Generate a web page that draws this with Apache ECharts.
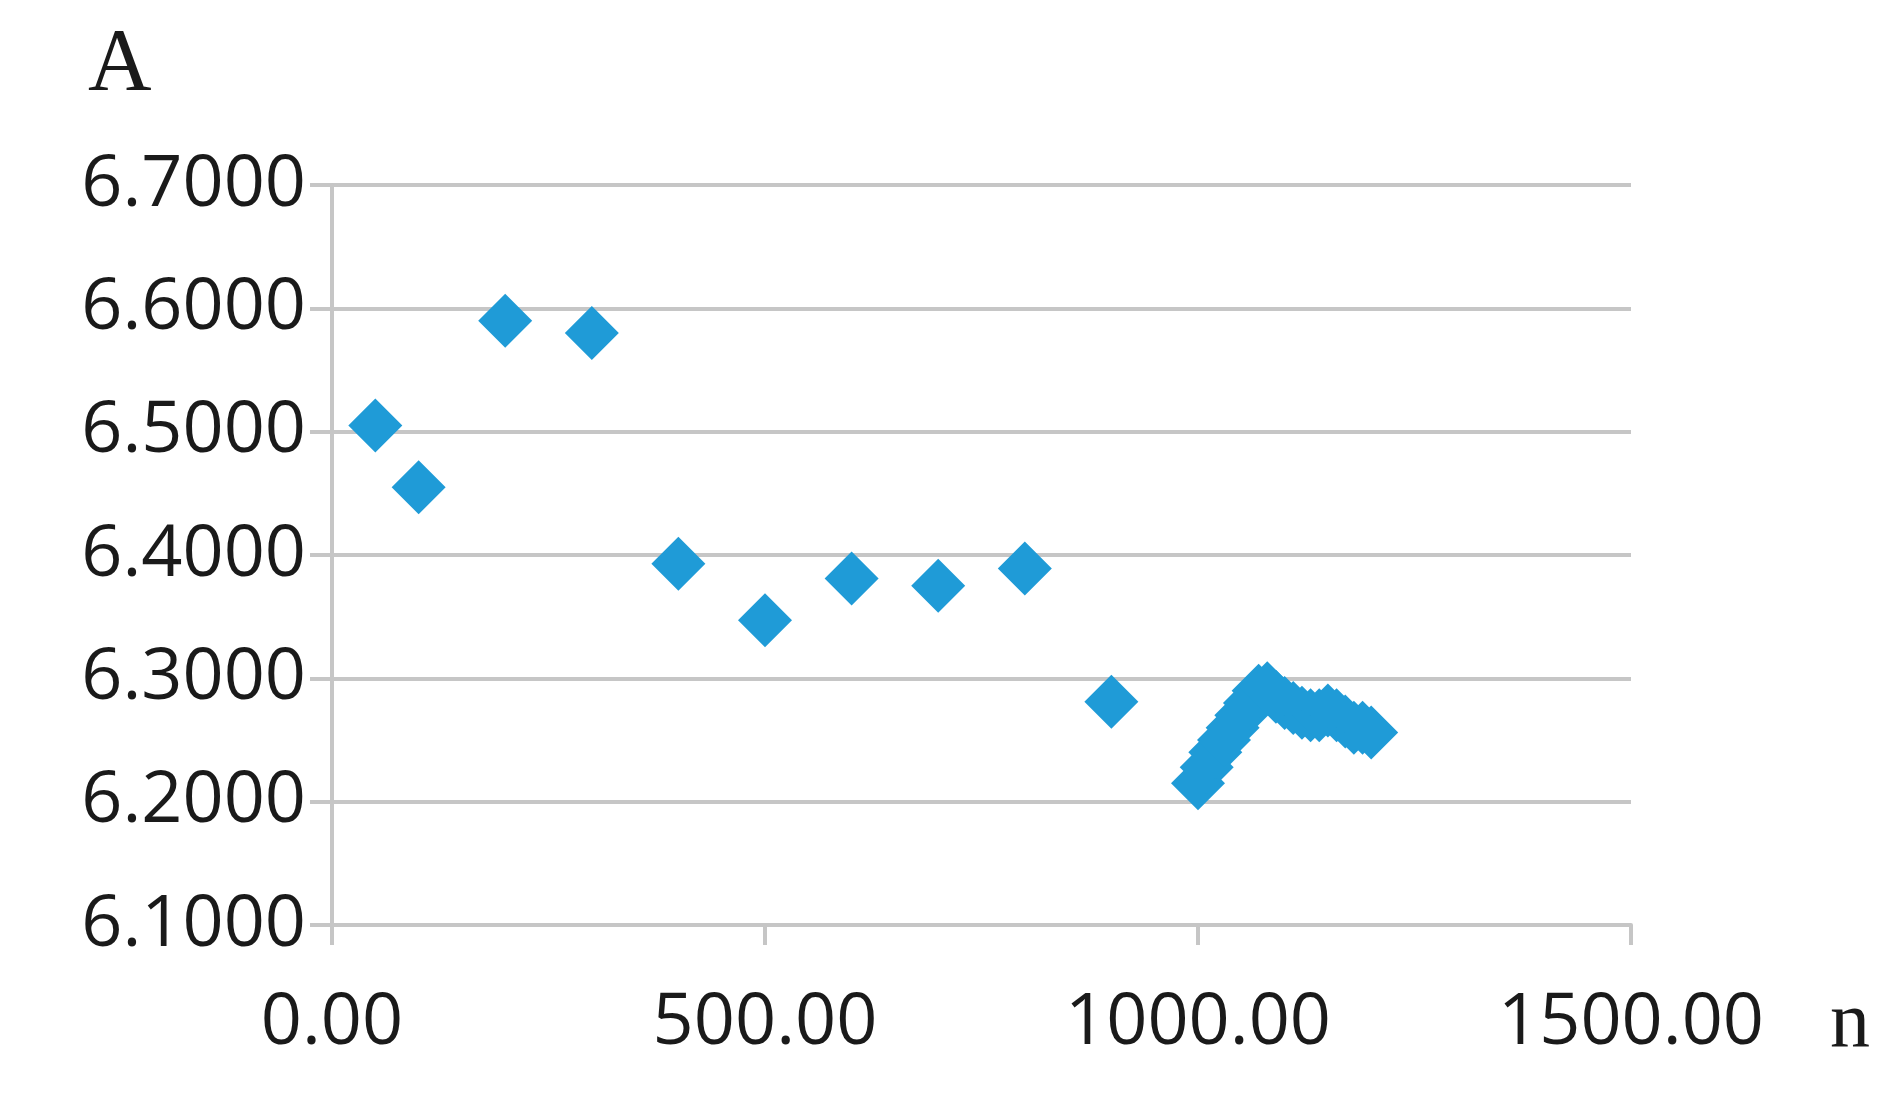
<!DOCTYPE html>
<html>
<head>
<meta charset="utf-8" />
<script src="https://cdn.jsdelivr.net/npm/echarts@6/dist/echarts.min.js"></script>
<style>
  body { margin: 0; background: #fff; }
  #main { width: 1898px; height: 1101px; }
</style>
</head>
<body>
<div id="main"></div>
<script>
var nValues = [50, 100, 200, 300, 400, 500, 600, 700, 800, 900,
  1000, 1010, 1020, 1030, 1040, 1050, 1060, 1070, 1080, 1090, 1100,
  1110, 1120, 1130, 1140, 1150, 1160, 1170, 1180, 1190, 1200];
var aValues = [6.505, 6.455, 6.590, 6.580, 6.393, 6.347, 6.381, 6.375, 6.389, 6.281,
  6.215, 6.228, 6.240, 6.250, 6.260, 6.270, 6.280, 6.290, 6.292, 6.285, 6.280,
  6.276, 6.272, 6.270, 6.270, 6.274, 6.270, 6.265, 6.260, 6.260, 6.256];

var points = nValues.map(function (n, i) { return [n, aValues[i]]; });

var myChart = echarts.init(document.getElementById('main'));
var labelFont = { color: '#1a1a1a', fontSize: 72, fontFamily: 'Open Sans' };
myChart.setOption({
  animation: false,
  grid: { left: 332, right: 267, top: 185, bottom: 176 },
  xAxis: {
    type: 'value', min: 0, max: 1500, interval: 500,
    axisLine: { show: true, onZero: false, lineStyle: { color: '#c6c6c6', width: 4 } },
    axisTick: { show: true, length: 20, lineStyle: { color: '#c6c6c6', width: 4 } },
    splitLine: { show: false },
    axisLabel: Object.assign({ margin: 62, formatter: function (v) { return v.toFixed(2); } }, labelFont)
  },
  yAxis: {
    type: 'value', min: 6.1, max: 6.7, interval: 0.1,
    axisLine: { show: true, lineStyle: { color: '#c6c6c6', width: 4 } },
    axisTick: { show: true, length: 22, lineStyle: { color: '#c6c6c6', width: 4 } },
    splitLine: { show: true, lineStyle: { color: '#c6c6c6', width: 4 } },
    axisLabel: Object.assign({ margin: 26, formatter: function (v) { return v.toFixed(4); } }, labelFont)
  },
  graphic: [
    { type: 'text', left: 88, top: 22, style: { text: 'A', fontSize: 88, fontFamily: 'Liberation Serif', fill: '#1a1a1a' } },
    { type: 'text', left: 1830, top: 985, style: { text: 'n', fontSize: 80, fontFamily: 'Liberation Serif', fill: '#1a1a1a' } }
  ],
  series: [{
    type: 'scatter',
    data: points,
    symbol: 'diamond',
    symbolSize: 54,
    itemStyle: { color: '#1f9bd7', opacity: 1 }
  }]
});
</script>
</body>
</html>
